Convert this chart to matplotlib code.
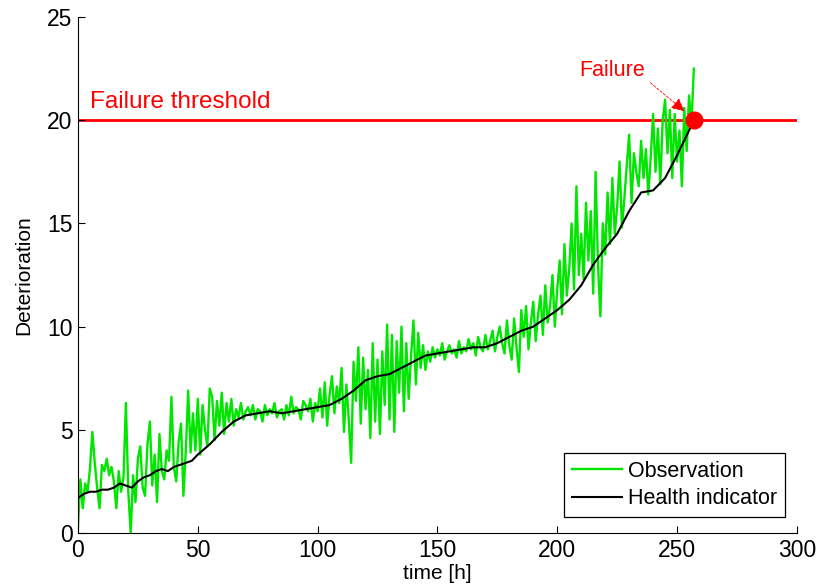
import matplotlib

matplotlib.use("Agg")
import matplotlib.pyplot as plt

# observation, one value per hour (t = 0..257)
OBSERVATION = [
    0.3, 2.6, 1.2, 2.4, 2.0, 3.1, 4.9, 3.4, 2.2, 1.2,
    3.3, 3.0, 3.6, 2.8, 3.2, 2.5, 1.2, 3.0, 2.0, 2.7,
    6.3, 2.0, 0.0, 2.8, 1.5, 3.6, 4.2, 2.2, 1.8, 4.3,
    5.4, 2.3, 3.8, 1.5, 4.8, 3.0, 2.6, 4.0, 3.5, 6.6,
    3.2, 2.5, 4.4, 5.3, 1.8, 4.0, 6.9, 3.9, 5.8, 4.0,
    6.5, 3.8, 6.2, 5.0, 4.2, 7.0, 6.6, 4.5, 6.4, 5.2,
    6.8, 4.8, 6.3, 5.4, 6.5, 5.2, 6.0, 5.6, 6.3, 5.5,
    5.9, 6.1, 5.7, 6.2, 5.5, 6.0, 5.9, 5.4, 6.2, 5.7,
    6.0, 5.8, 6.3, 5.6, 5.9, 6.0, 5.5, 6.2, 5.7, 6.6,
    5.8, 6.1, 6.0, 5.5, 6.4, 6.2, 5.9, 6.5, 5.4, 6.3,
    5.9, 7.0, 5.6, 7.3, 5.2, 6.7, 7.6, 5.8, 7.1, 6.3,
    8.0, 4.9, 7.2, 5.5, 3.4, 8.3, 6.4, 9.0, 5.3, 8.5,
    6.0, 7.9, 4.6, 9.2, 5.4, 8.4, 4.8, 8.8, 6.2, 10.1,
    5.5, 9.6, 4.9, 9.3, 6.8, 10.0, 5.9, 9.2, 6.5, 8.6,
    10.3, 7.2, 9.7, 8.0, 9.1, 7.9, 8.8, 8.3, 9.0, 8.5,
    8.9, 8.6, 9.2, 8.4, 8.8, 9.1, 8.7, 8.9, 8.5, 9.3,
    8.7, 9.0, 8.8, 9.4, 8.9, 9.2, 8.6, 9.5, 9.0, 8.8,
    9.6, 8.9, 9.3, 9.8, 8.8, 9.5, 10.0, 9.2, 8.7, 10.3,
    9.1, 8.4, 10.4, 9.0, 7.8, 10.8, 9.5, 11.0, 8.9, 10.2,
    11.2, 9.3, 10.6, 11.5, 9.6, 12.0, 10.2, 11.0, 12.5, 10.0,
    11.8, 13.2, 10.6, 14.0, 11.5, 12.8, 15.0, 11.8, 16.8, 12.5,
    14.5, 12.3, 16.0, 13.2, 15.6, 11.6, 17.5, 13.0, 10.5, 15.0,
    13.5, 16.5, 14.0, 17.2, 14.5, 15.8, 18.0, 14.8, 16.2, 17.8,
    19.3, 16.0, 18.4, 17.5, 16.8, 19.0, 17.2, 18.6, 16.4, 18.2,
    20.3, 17.5, 19.6, 16.9, 20.0, 21.0, 18.4, 20.5, 17.2, 20.3,
    18.0, 19.5, 16.8, 20.6, 18.5, 21.2, 19.8, 22.5,
]
OBS_TIME = list(range(len(OBSERVATION)))

HI_TIME = [0, 2.5, 5, 7.5, 10, 12.5, 15, 17.5, 20, 22.5, 25, 27.5, 30, 32.5,
           35, 37.5, 40, 42.5, 45, 47.5, 50, 55, 60, 65, 70, 75,
           80, 85, 90, 95, 100, 105, 110, 115, 120, 125, 130, 135, 140, 145,
           150, 155, 160, 165, 170, 175, 180, 185, 190, 195, 200, 205, 210,
           215, 220, 225, 230, 235, 240, 245, 250, 255, 257]
HEALTH_INDICATOR = [1.7, 1.9, 2.0, 2.0, 2.1, 2.1, 2.2, 2.4, 2.3, 2.2, 2.5,
                    2.7, 2.8, 3.0, 3.1, 3.0, 3.2, 3.3, 3.4, 3.5, 3.8,
                    4.3, 4.9, 5.4, 5.7, 5.8, 5.9, 5.8, 5.9, 6.0, 6.1, 6.2,
                    6.5, 6.9, 7.4, 7.6, 7.7, 8.0, 8.3, 8.6, 8.7, 8.8, 8.9,
                    9.0, 9.0, 9.2, 9.5, 9.8, 10.0, 10.4, 10.8, 11.3, 12.0,
                    13.0, 13.8, 14.5, 15.6, 16.5, 16.6, 17.2, 18.3, 19.5, 20.0]

THRESHOLD = 20
FAILURE_TIME = 257

plt.rcParams["font.family"] = ["Liberation Sans", "DejaVu Sans"]
plt.rcParams["font.size"] = 15

fig = plt.figure(figsize=(8.19, 5.88), dpi=100)
ax = fig.add_axes([0.0952, 0.0935, 0.8778, 0.8775])

ax.axhline(THRESHOLD, color="#ff0000", lw=2, zorder=1)
ax.plot(OBS_TIME, OBSERVATION, color="#00e600", lw=1.7, label="Observation", zorder=2)
ax.plot(HI_TIME, HEALTH_INDICATOR, color="black", lw=1.5, label="Health indicator", zorder=3)
ax.plot(FAILURE_TIME, THRESHOLD, "o", color="#ff0000", ms=12, zorder=4)

ax.text(5, 20.6, "Failure threshold", color="#ff0000", fontsize=17.5)
ax.text(223, 22.4, "Failure", color="#ff0000", fontsize=15.5, ha="center", va="center")
ax.annotate("", xy=(254, 20.35), xytext=(238, 21.9),
            arrowprops=dict(arrowstyle="-|>", color="#ff0000", lw=0.6,
                            linestyle=(0, (3, 2)), mutation_scale=20))

ax.set_xlim(0, 300)
ax.set_ylim(0, 25)
ax.set_xticks(range(0, 301, 50))
ax.set_yticks(range(0, 26, 5))
ax.set_xlabel("time [h]", labelpad=2)
ax.set_ylabel("Deterioration", labelpad=10)
ax.tick_params(direction="in", length=5, width=0.8, pad=4, labelsize=16.5)
ax.spines["top"].set_visible(False)
ax.spines["right"].set_visible(False)

leg = ax.legend(loc="lower right", bbox_to_anchor=(0.983, 0.031), borderaxespad=0,
                fancybox=False, edgecolor="black", framealpha=1, fontsize=15.5,
                handlelength=2.3, borderpad=0.35, labelspacing=0.3, handletextpad=0.3)
leg.get_frame().set_linewidth(0.9)

fig.savefig("out.png", dpi=100)
